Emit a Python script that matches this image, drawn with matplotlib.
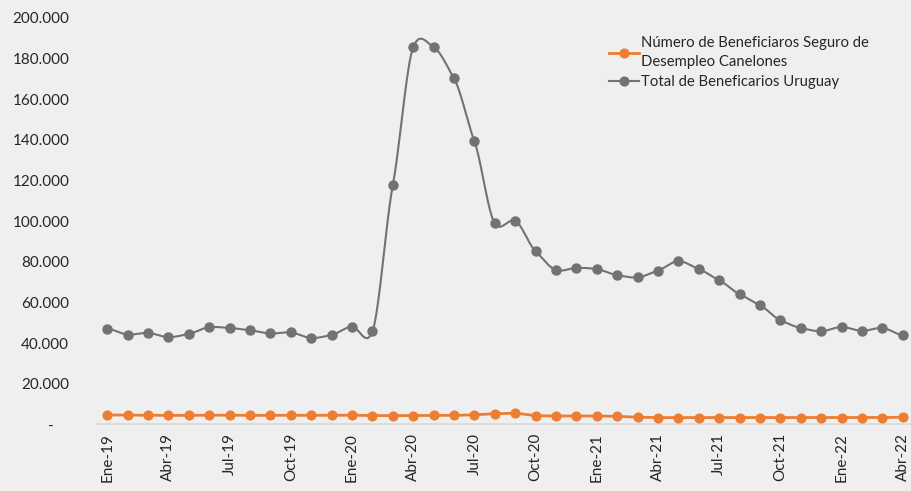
import numpy as np
import matplotlib
matplotlib.use("Agg")
import matplotlib.pyplot as plt

plt.rcParams['font.family'] = ['Lato', 'DejaVu Sans']

meses = ['Ene', 'Feb', 'Mar', 'Abr', 'May', 'Jun', 'Jul', 'Ago', 'Set', 'Oct', 'Nov', 'Dic']
labels = [f"{m}-{a}" for a in ('19', '20', '21', '22') for m in meses][:40]

canelones = [4600, 4500, 4500, 4400, 4400, 4500, 4500, 4400, 4400, 4400, 4400, 4400, 4500, 4300,
             4300, 4300, 4400, 4400, 4700, 5200, 5400, 4300, 4100, 4100, 4100, 3900, 3500, 3300,
             3300, 3300, 3300, 3300, 3300, 3300, 3300, 3300, 3300, 3300, 3300, 3500]
uruguay = [47100, 44200, 45000, 42900, 44500, 47800, 47400, 46300, 44700, 45200, 42500, 44000, 48100, 45700,
           117700, 185600, 185600, 170300, 139300, 98900, 100200, 85200, 75900, 77000, 76400, 73400, 72300, 75700,
           80300, 76400, 70900, 64000, 58600, 51200, 47400, 45800, 47900, 46000, 47400, 43800]

naranja = '#ED7D31'
gris = '#767171'
fondo = '#EFEFEF'


def suavizar(y, n=20, k=8):
    # curva suavizada tipo Excel entre puntos
    y = np.asarray(y, dtype=float)
    p = np.concatenate([[y[0]], y, [y[-1]]])
    xs, ys = [], []
    for i in range(len(y) - 1):
        p0, p1, p2, p3 = p[i], p[i + 1], p[i + 2], p[i + 3]
        t = np.linspace(0, 1, n, endpoint=False)
        c1 = p1 + (p2 - p0) / k
        c2 = p2 - (p3 - p1) / k
        b = (1 - t) ** 3 * p1 + 3 * (1 - t) ** 2 * t * c1 + 3 * (1 - t) * t ** 2 * c2 + t ** 3 * p2
        xs.append(i + t)
        ys.append(b)
    xs.append([len(y) - 1])
    ys.append([y[-1]])
    return np.concatenate(xs), np.concatenate(ys)


fig = plt.figure(figsize=(9.12, 4.91), dpi=100, facecolor=fondo)
ax = fig.add_axes([97 / 912, (491 - 424.3) / 491, 816 / 912, (424.3 - 18) / 491])
ax.set_facecolor(fondo)

x = np.arange(len(labels))
sx, sy = suavizar(canelones)
ax.plot(sx, sy, color=naranja, lw=2.0, zorder=3)
ax.plot(x, canelones, 'o', color=naranja, ms=6.3, zorder=4)
sx, sy = suavizar(uruguay)
ax.plot(sx, sy, color=gris, lw=1.5, zorder=3)
ax.plot(x, uruguay, 'o', color=gris, ms=6.5, zorder=4)

# handles para leyenda
h1, = ax.plot([], [], '-o', color=naranja, lw=2.0, ms=6.3)
h2, = ax.plot([], [], '-o', color=gris, lw=1.5, ms=6.3)
leg = fig.legend([h1, h2], ['Número de Beneficiaros Seguro de\nDesempleo Canelones', 'Total de Beneficarios Uruguay'],
                 loc='upper left', bbox_to_anchor=(602 / 912, 1 - 29 / 491), frameon=False,
                 fontsize=10.7, handlelength=2.0, handletextpad=0.15, labelspacing=0.4, borderpad=0)
for t in leg.get_texts():
    t.set_linespacing(1.4)
    t.set_color('#262626')

ax.set_xlim(-0.5, len(labels) - 0.5)
ax.set_ylim(0, 200000)
ax.set_xticks(x[::3])
ax.set_xticklabels(labels[::3], rotation=90, fontsize=11, color='#262626')
yt = np.arange(0, 200001, 20000)
ax.set_yticks(yt)
ax.set_yticklabels(['-    '] + [f"{v:,.0f}".replace(',', '.') for v in yt[1:]], fontsize=11, color='#262626')
ax.tick_params(length=0, pad=6)
ax.tick_params(axis='y', pad=20)
for s in ['top', 'right', 'left']:
    ax.spines[s].set_visible(False)
ax.spines['bottom'].set_color('#D9D9D9')
ax.spines['bottom'].set_linewidth(1.2)

fig.savefig('out.png', dpi=100, facecolor=fondo)
